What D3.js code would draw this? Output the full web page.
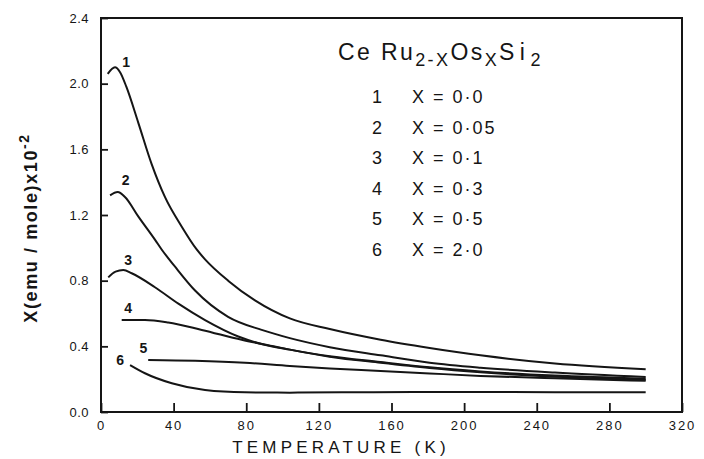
<!DOCTYPE html>
<html>
<head>
<meta charset="utf-8">
<script src="https://cdn.jsdelivr.net/npm/d3@7"></script>
<style>
  body { margin: 0; background: #fff; }
  text { font-family: "Liberation Sans", Arial, sans-serif; fill: #151515; }
</style>
</head>
<body>
<svg id="chart" width="704" height="459"></svg>
<script>
// susceptibility vs temperature, CeRu(2-x)Os(x)Si2
const xTicks = [0, 40, 80, 120, 160, 200, 240, 280, 320];
const yTicks = [0.0, 0.4, 0.8, 1.2, 1.6, 2.0, 2.4];

const curveIds = ["1", "2", "3", "4", "5", "6"];
const compositions = ["0·0", "0·05", "0·1", "0·3", "0·5", "2·0"];

const temp1 = [3.7, 7.7, 10.5, 14, 20.6, 27.9, 35.2, 44.4, 52.7, 57.3, 70, 84.8, 104, 126, 154, 181, 209, 250, 300];
const chi1  = [2.06, 2.10, 2.07, 1.98, 1.76, 1.51, 1.31, 1.13, 0.99, 0.93, 0.80, 0.68, 0.57, 0.505, 0.44, 0.39, 0.345, 0.295, 0.26];

const temp2 = [5, 9.2, 13.2, 20.6, 29.7, 33.4, 40.8, 51.8, 70, 88.5, 104, 126, 154, 181, 209, 250, 300];
const chi2  = [1.32, 1.34, 1.31, 1.19, 1.05, 0.99, 0.885, 0.74, 0.58, 0.50, 0.45, 0.395, 0.345, 0.30, 0.27, 0.24, 0.213];

const temp3 = [4, 8, 12.3, 16.9, 29.7, 42.6, 57.3, 75.6, 90, 104, 126, 154, 181, 209, 250, 300];
const chi3  = [0.82, 0.855, 0.865, 0.845, 0.76, 0.66, 0.56, 0.46, 0.41, 0.38, 0.34, 0.305, 0.272, 0.247, 0.222, 0.203];

const temp4 = [11.4, 24.2, 37, 55.5, 77.5, 95, 104, 126, 154, 181, 209, 250, 300];
const chi4  = [0.56, 0.56, 0.545, 0.50, 0.44, 0.40, 0.38, 0.337, 0.30, 0.268, 0.242, 0.215, 0.197];

const temp5 = [26, 51.8, 79.3, 104, 126, 154, 181, 209, 250, 300];
const chi5  = [0.317, 0.312, 0.30, 0.28, 0.265, 0.25, 0.235, 0.22, 0.205, 0.19];

const temp6 = [16, 24.2, 39, 57.3, 79.3, 104, 150, 200, 250, 300];
const chi6  = [0.286, 0.236, 0.175, 0.134, 0.12, 0.118, 0.121, 0.122, 0.121, 0.12];

// where the curve numbers sit, in data units
const labelTemp = [13.8, 13.6, 15, 15, 23.3, 10.5];
const labelChi  = [2.13, 1.41, 0.925, 0.63, 0.39, 0.317];

const temps = [temp1, temp2, temp3, temp4, temp5, temp6];
const chis = [chi1, chi2, chi3, chi4, chi5, chi6];

const svg = d3.select("#chart");
const ink = "#151515";

let x = d3.scaleLinear().domain([0, 320]).range([101, 682]);
let y = d3.scaleLinear().domain([0, 2.4]).range([412, 18]);

// frame
svg.append("rect")
   .attr("x", x(0)).attr("y", y(2.4))
   .attr("width", x(320) - x(0)).attr("height", y(0) - y(2.4))
   .attr("fill", "none").attr("stroke", ink).attr("stroke-width", 2);

// axes, ticks pointing inward
let xAxis = svg.append("g")
   .attr("transform", `translate(0,${y(0)})`)
   .call(d3.axisBottom(x).tickValues(xTicks).tickSizeInner(-9).tickSizeOuter(0).tickPadding(9));
let yAxis = svg.append("g")
   .attr("transform", `translate(${x(0)},0)`)
   .call(d3.axisLeft(y).tickValues(yTicks).tickFormat(d3.format(".1f")).tickSizeInner(-7).tickSizeOuter(0).tickPadding(12));

[xAxis, yAxis].forEach(g => {
  g.select(".domain").remove();
  g.selectAll("line").attr("stroke", ink).attr("stroke-width", 1.8);
  g.selectAll("text").attr("font-size", 13).attr("fill", ink)
   .style("font-family", "Liberation Sans, Arial, sans-serif");
});
xAxis.selectAll("text").attr("letter-spacing", 2);
yAxis.selectAll("text").attr("letter-spacing", 0.5);

// axis titles
svg.append("text")
   .attr("x", 341).attr("y", 453)
   .attr("text-anchor", "middle")
   .attr("font-size", 17).attr("letter-spacing", 4.2)
   .text("TEMPERATURE (K)");

let yTitle = svg.append("text")
   .attr("transform", "translate(37,228) rotate(-90)")
   .attr("text-anchor", "middle")
   .attr("font-size", 18).attr("font-weight", "bold").attr("letter-spacing", 1.6);
yTitle.append("tspan").text("X(emu / mole)x10");
yTitle.append("tspan").attr("dy", -8).attr("font-size", 14).text("-2");

// curves
let line = d3.line()
   .x(d => x(d[0]))
   .y(d => y(d[1]))
   .curve(d3.curveMonotoneX);

temps.forEach((t, i) => {
  let pts = t.map((v, k) => [v, chis[i][k]]);
  svg.append("path")
     .datum(pts)
     .attr("d", line)
     .attr("fill", "none")
     .attr("stroke", ink)
     .attr("stroke-width", 2);
});

svg.selectAll("text.curveId")
   .data(curveIds)
   .join("text")
   .attr("class", "curveId")
   .attr("x", (d, i) => x(labelTemp[i]))
   .attr("y", (d, i) => y(labelChi[i]))
   .attr("dy", "0.35em")
   .attr("text-anchor", "middle")
   .attr("font-size", 14).attr("font-weight", "bold")
   .text(d => d);

// legend
let title = svg.append("text")
   .attr("x", 338).attr("y", 60)
   .attr("font-size", 23).attr("letter-spacing", 2.4);
title.append("tspan").text("Ce Ru");
title.append("tspan").attr("dy", 6).attr("font-size", 18).text("2-X");
title.append("tspan").attr("dy", -6).text("Os");
title.append("tspan").attr("dy", 6).attr("font-size", 18).text("X");
title.append("tspan").attr("dy", -6).attr("letter-spacing", 5.5).text("Si");
title.append("tspan").attr("dy", 6).attr("font-size", 18).text("2");

let rows = svg.selectAll("g.legendRow")
   .data(curveIds)
   .join("g")
   .attr("class", "legendRow")
   .attr("transform", (d, i) => `translate(0,${103 + i * 30.5})`);
rows.append("text")
    .attr("x", 377).attr("text-anchor", "middle")
    .attr("font-size", 18)
    .text(d => d);
rows.append("text")
    .attr("x", 412)
    .attr("font-size", 18).attr("letter-spacing", 2)
    .text((d, i) => "X = " + compositions[i]);
</script>
</body>
</html>
